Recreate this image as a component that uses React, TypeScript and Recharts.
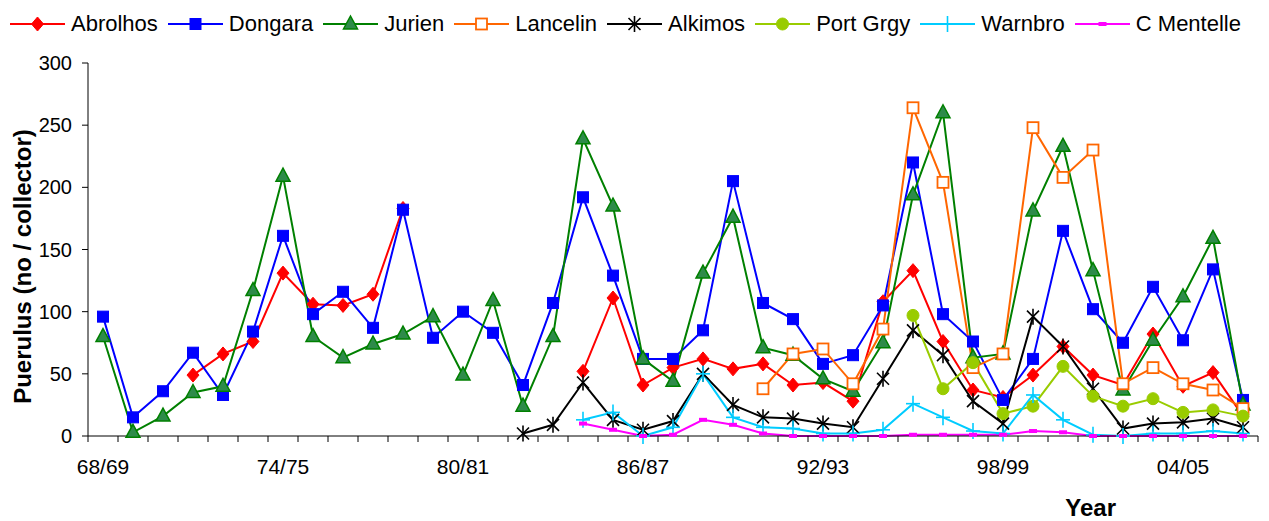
import React from "react";
import { LineChart, Line, XAxis, YAxis, Label } from "recharts";

const FONT = "'Liberation Sans', Arial, sans-serif";

const seasons = [
  "68/69", "69/70", "70/71", "71/72", "72/73", "73/74", "74/75", "75/76", "76/77", "77/78",
  "78/79", "79/80", "80/81", "81/82", "82/83", "83/84", "84/85", "85/86", "86/87", "87/88",
  "88/89", "89/90", "90/91", "91/92", "92/93", "93/94", "94/95", "95/96", "96/97", "97/98",
  "98/99", "99/00", "00/01", "01/02", "02/03", "03/04", "04/05", "05/06", "06/07",
];

const labelledSeasons = ["68/69", "74/75", "80/81", "86/87", "92/93", "98/99", "04/05"];
const yTicks = [0, 50, 100, 150, 200, 250, 300];

const _ = null;
const abrolhos = [_, _, _, 49, 66, 76, 131, 106, 105, 114, 183, _, _, _, _, _, 52, 111, 41, 55, 62, 54, 58, 41, 43, 28, 108, 133, 76, 37, 31, 49, 72, 49, 41, 82, 40, 51, 16];
const dongara = [96, 15, 36, 67, 33, 84, 161, 98, 116, 87, 182, 79, 100, 83, 41, 107, 192, 129, 62, 62, 85, 205, 107, 94, 58, 65, 105, 220, 98, 76, 29, 62, 165, 102, 75, 120, 77, 134, 29];
const jurien = [80, 3, 16, 35, 40, 117, 209, 80, 63, 74, 82, 96, 49, 109, 24, 80, 239, 185, 62, 44, 131, 176, 71, 65, 46, 36, 75, 194, 260, 63, 66, 181, 233, 133, 37, 77, 112, 159, 25];
const lancelin = [_, _, _, _, _, _, _, _, _, _, _, _, _, _, _, _, _, _, _, _, _, _, 38, 66, 70, 42, 86, 264, 204, 55, 66, 248, 208, 230, 42, 55, 42, 37, 22];
const alkimos = [_, _, _, _, _, _, _, _, _, _, _, _, _, _, 2, 9, 43, 13, 5, 12, 50, 25, 15, 14, 10, 7, 46, 85, 65, 28, 10, 96, 72, 38, 6, 10, 11, 14, 7];
const portGrgy = [_, _, _, _, _, _, _, _, _, _, _, _, _, _, _, _, _, _, _, _, _, _, _, _, _, _, _, 97, 38, 59, 18, 24, 56, 32, 24, 30, 19, 21, 16];
const warnbro = [_, _, _, _, _, _, _, _, _, _, _, _, _, _, _, _, 13, 19, 0, 7, 50, 15, 7, 6, 2, 2, 5, 26, 15, 4, 2, 33, 13, 1, 0, 2, 2, 4, 2];
const cMentelle = [_, _, _, _, _, _, _, _, _, _, _, _, _, _, _, _, 10, 5, 0, 1, 13, 9, 2, 0, 0, 0, 0, 1, 1, 1, 1, 4, 3, 0, 0, 0, 0, 0, 0];

type Kind = "diamond" | "square" | "triangle" | "hollow" | "star" | "circle" | "plus" | "dash";

const series: { key: string; name: string; values: (number | null)[]; color: string; kind: Kind }[] = [
  { key: "abrolhos", name: "Abrolhos", values: abrolhos, color: "#ff0000", kind: "diamond" },
  { key: "dongara", name: "Dongara", values: dongara, color: "#0000ff", kind: "square" },
  { key: "jurien", name: "Jurien", values: jurien, color: "#008000", kind: "triangle" },
  { key: "lancelin", name: "Lancelin", values: lancelin, color: "#ff6600", kind: "hollow" },
  { key: "alkimos", name: "Alkimos", values: alkimos, color: "#000000", kind: "star" },
  { key: "portGrgy", name: "Port Grgy", values: portGrgy, color: "#99cc00", kind: "circle" },
  { key: "warnbro", name: "Warnbro", values: warnbro, color: "#00ccff", kind: "plus" },
  { key: "cMentelle", name: "C Mentelle", values: cMentelle, color: "#ff00ff", kind: "dash" },
];

// numeric x so ticks can sit between categories like the excel original
const data = seasons.map((s, i) => {
  const row: Record<string, any> = { x: i + 0.5, season: s };
  series.forEach((sr) => (row[sr.key] = sr.values[i]));
  return row;
});

const boundaryTicks = [...seasons.map((_s, i) => i), seasons.length];
const labelTicks = labelledSeasons.map((s) => seasons.indexOf(s) + 0.5);
const xTicks = [...boundaryTicks, ...labelTicks];

function Marker({ kind, color, cx, cy }: { kind: Kind; color: string; cx: number; cy: number }) {
  switch (kind) {
    case "diamond":
      return <polygon points={`${cx},${cy - 7} ${cx + 6},${cy} ${cx},${cy + 7} ${cx - 6},${cy}`} fill={color} stroke={color} />;
    case "square":
      return <rect x={cx - 5.5} y={cy - 5.5} width={11} height={11} fill={color} stroke={color} />;
    case "triangle":
      return <polygon points={`${cx},${cy - 8} ${cx + 7},${cy + 5} ${cx - 7},${cy + 5}`} fill="#2e8b4a" stroke={color} strokeWidth={1.5} />;
    case "hollow":
      return <rect x={cx - 5.5} y={cy - 5.5} width={11} height={11} fill="#fff" stroke={color} strokeWidth={1.8} />;
    case "star":
      return (
        <g stroke={color} strokeWidth={1.6}>
          <line x1={cx - 6} y1={cy - 6} x2={cx + 6} y2={cy + 6} />
          <line x1={cx - 6} y1={cy + 6} x2={cx + 6} y2={cy - 6} />
          <line x1={cx} y1={cy - 8} x2={cx} y2={cy + 8} />
        </g>
      );
    case "circle":
      return <circle cx={cx} cy={cy} r={6} fill={color} stroke={color} />;
    case "plus":
      return (
        <g stroke={color} strokeWidth={1.6}>
          <line x1={cx - 7} y1={cy} x2={cx + 7} y2={cy} />
          <line x1={cx} y1={cy - 8} x2={cx} y2={cy + 8} />
        </g>
      );
    default:
      return <rect x={cx - 4} y={cy - 2} width={8} height={4} fill={color} />;
  }
}

const makeDot = (kind: Kind, color: string) => (props: any) => {
  const { cx, cy, value, index } = props;
  if (cx == null || cy == null || value == null) return <g key={`${kind}-${index}`} />;
  return (
    <g key={`${kind}-${index}`}>
      <Marker kind={kind} color={color} cx={cx} cy={cy} />
    </g>
  );
};

function XTick(props: any) {
  const { x, y, payload } = props;
  const v = payload.value;
  if (Number.isInteger(v)) {
    return <line x1={x} x2={x} y1={y} y2={y + 6} stroke="#000" />;
  }
  return (
    <text x={x} y={y + 38} textAnchor="middle" fontSize={21} fill="#000" fontFamily={FONT}>
      {seasons[v - 0.5]}
    </text>
  );
}

function LegendRow() {
  return (
    <div style={{ position: "absolute", left: 10, top: 11, display: "flex", alignItems: "center", fontFamily: FONT, fontSize: 22, color: "#000", whiteSpace: "nowrap" }}>
      {series.map((s) => (
        <div key={s.key} style={{ display: "flex", alignItems: "center", marginRight: 10 }}>
          <svg width={55} height={24}>
            <line x1={0} x2={55} y1={12} y2={12} stroke={s.color} strokeWidth={2} />
            <Marker kind={s.kind} color={s.color} cx={27.5} cy={12} />
          </svg>
          <span style={{ marginLeft: 6 }}>{s.name}</span>
        </div>
      ))}
    </div>
  );
}

export default function App() {
  return (
    <div style={{ position: "absolute", left: 0, top: 0, width: 1269, height: 521, background: "#fff" }}>
      <LegendRow />
      <LineChart width={1269} height={521} data={data} margin={{ top: 63, right: 11, bottom: 0, left: 28 }}>
        <XAxis
          type="number"
          dataKey="x"
          domain={[0, seasons.length]}
          ticks={xTicks}
          interval={0}
          tickSize={0}
          tickMargin={0}
          tickLine={false}
          tick={<XTick />}
          height={85}
          axisLine={{ stroke: "#000" }}
          allowDecimals
        >
          <Label
            content={(p: any) => (
              <text x={p.viewBox.x + p.viewBox.width * 0.857} y={p.viewBox.y + 80} textAnchor="middle" fontSize={24} fontWeight="bold" fontFamily={FONT} fill="#000">
                Year
              </text>
            )}
          />
        </XAxis>
        <YAxis
          domain={[0, 300]}
          ticks={yTicks}
          interval={0}
          width={60}
          tickSize={6}
          tickMargin={10}
          axisLine={{ stroke: "#000" }}
          tickLine={{ stroke: "#000" }}
          tick={{ fontSize: 20, fill: "#000", fontFamily: FONT }}
        >
          <Label
            content={(p: any) => {
              const cx = p.viewBox.x - 6;
              const cy = p.viewBox.y + p.viewBox.height / 2 + 17;
              return (
                <text x={cx} y={cy} transform={`rotate(-90 ${cx} ${cy})`} textAnchor="middle" dominantBaseline="central" fontSize={24} fontWeight="bold" fontFamily={FONT} fill="#000">
                  Puerulus (no / collector)
                </text>
              );
            }}
          />
        </YAxis>
        {series.map((s) => (
          <Line
            key={s.key}
            dataKey={s.key}
            name={s.name}
            type="linear"
            stroke={s.color}
            strokeWidth={2}
            dot={makeDot(s.kind, s.color)}
            activeDot={false}
            isAnimationActive={false}
          />
        ))}
      </LineChart>
    </div>
  );
}
